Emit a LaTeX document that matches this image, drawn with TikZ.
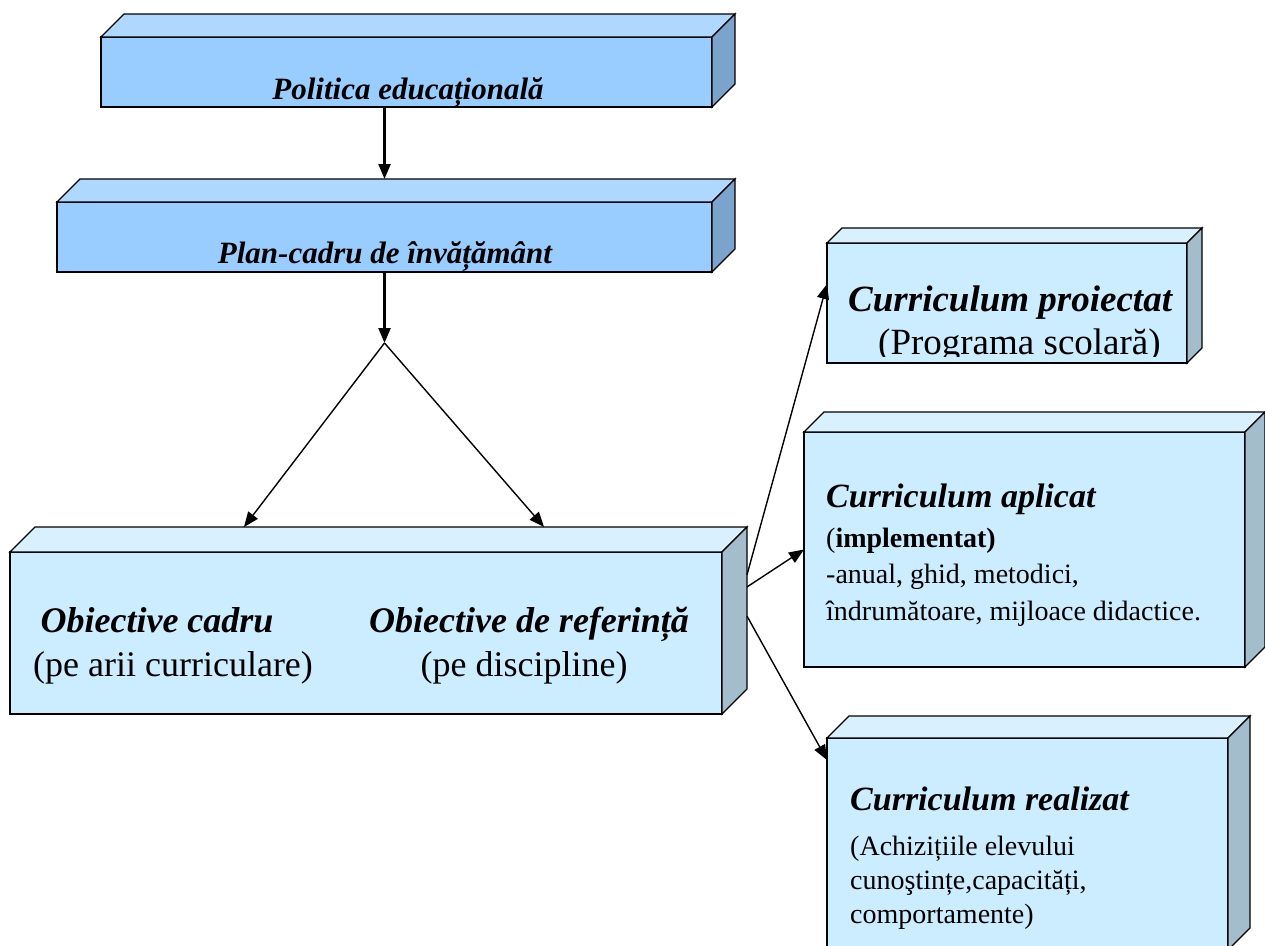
\documentclass[tikz,border=0pt]{standalone}
\usepackage{fontspec}
\setmainfont{Liberation Serif}
\usetikzlibrary{calc,arrows.meta}

\definecolor{deepfront}{HTML}{99CCFF}
\definecolor{deeptop}{HTML}{B0D8FF}
\definecolor{deepside}{HTML}{7BA3CC}
\definecolor{palefront}{HTML}{CCECFF}
\definecolor{paletop}{HTML}{D9F1FF}
\definecolor{paleside}{HTML}{A3BDCC}

\tikzset{
  edge/.style={draw=black, line width=1.3pt, line join=miter},
  link/.style={line width=1.4pt, -{Triangle[length=15pt,width=12pt]}},
  thicklink/.style={line width=2.4pt, -{Triangle[length=15pt,width=12pt]}},
  title/.style={font=\fontsize{31}{36}\selectfont\bfseries\itshape, inner sep=0, anchor=base},
  bigtitle/.style={font=\fontsize{36}{42}\selectfont\bfseries\itshape, inner sep=0, anchor=base},
  bignote/.style={font=\fontsize{36}{42}\selectfont, inner sep=0, anchor=base},
  subtitle/.style={font=\fontsize{34}{40}\selectfont\bfseries\itshape, inner sep=0, anchor=base west},
  note/.style={font=\fontsize{28}{34}\selectfont, inner sep=0, anchor=base west},
}

% 3D box: name, x1, y1, x2, y2 (front face), depth, front/top/side colours
\newcommand\cubebox[9]{%
  \node[edge, fill=#7, anchor=north west, inner sep=0, outer sep=0,
        minimum width={#4pt-#2pt}, minimum height={#5pt-#3pt}] (#1) at (#2,#3) {};
  \coordinate (#1-tl) at ($(#1.north west)+(#6,-#6)$);
  \coordinate (#1-tr) at ($(#1.north east)+(#6,-#6)$);
  \coordinate (#1-br) at ($(#1.south east)+(#6,-#6)$);
  \filldraw[edge, fill=#8] (#1.north west) -- (#1-tl) -- (#1-tr) -- (#1.north east) -- cycle;
  \filldraw[edge, fill=#9] (#1.north east) -- (#1-tr) -- (#1-br) -- (#1.south east) -- cycle;
}

\begin{document}
\begin{tikzpicture}[x=1pt, y=-1pt]
\useasboundingbox (0,0) rectangle (1265,945);
\clip (0,0) rectangle (1265,945);

% boxes
\cubebox{b1}{101}{37}{712}{107}{23}{deepfront}{deeptop}{deepside}
\cubebox{b2}{57}{202}{712}{272}{23}{deepfront}{deeptop}{deepside}
\cubebox{b3}{10}{552}{722}{714}{25}{palefront}{paletop}{paleside}
\cubebox{b4}{827}{243}{1187}{363}{15}{palefront}{paletop}{paleside}
\cubebox{b5}{804}{432}{1245}{667}{20}{palefront}{paletop}{paleside}
\cubebox{b6}{827}{738}{1228}{950}{22}{palefront}{paletop}{paleside}

% labels
\node[title] (t1) at (408,99) {Politica educațională};
\node[title] (t2) at (385,263) {Plan-cadru de învățământ};

\node[bigtitle] (t3a) at (157,632) {Obiective cadru};
\node[bignote]  (t3b) at (173,676) {(pe arii curriculare)};
\node[bigtitle] (t3c) at (529,632) {Obiective de referință};
\node[bignote]  (t3d) at (524,676) {(pe discipline)};

% the text frame of this box ends just under the second line
\begin{scope}
  \clip (b4.north west) rectangle ($(b4.south east)+(0,-7)$);
  \node[font=\fontsize{37}{42}\selectfont\bfseries\itshape, inner sep=0, anchor=base west] (t4a) at (848,311) {Curriculum proiectat};
  \node[font=\fontsize{37}{42}\selectfont, inner sep=0, anchor=base west] (t4b) at (878,354) {(Programa scolară)};
\end{scope}

\node[subtitle] (t5a) at (826,507) {Curriculum aplicat};
\node[note] (t5b) at (826,547) {(\textbf{implementat)}};
\node[note] (t5c) at (826,583) {-anual, ghid, metodici,};
\node[note] (t5d) at (826,620) {îndrumătoare, mijloace didactice.};

\node[subtitle] (t6a) at (850,810) {Curriculum realizat};
\node[note] (t6b) at (850,855) {(Achizițiile elevului};
\node[note] (t6c) at (850,889) {cunoştințe,capacități,};
\node[note] (t6d) at (850,923) {comportamente)};

% connectors
\coordinate (fork) at (384.5,343);
\coordinate (dropL) at ($(b3-tl)!0.2935!(b3-tr)$);
\coordinate (dropR) at ($(b3-tl)!0.715!(b3-tr)$);
\coordinate (outA) at ($(b3-tr)!0.295!(b3-br)$);
\coordinate (outB) at ($(b3-tr)!0.37!(b3-br)$);
\coordinate (outC) at ($(b3-tr)!0.55!(b3-br)$);
\coordinate (inA) at ($(b4.south west)!0.658!(b4.north west)$);
\coordinate (inC) at ($(b6.north west)+(0,22)$);

\draw[thicklink] (b1.south -| b2.north) -- (b2.north |- b2-tl);
\draw[thicklink] (b2.south) -- (fork);
\draw[link] (fork) -- (dropL);
\draw[link] (fork) -- (dropR);
\draw[link] (outA) -- (inA);
\draw[link] (outB) -- (b5.west);
\draw[link] (outC) -- (inC);
\end{tikzpicture}
\end{document}
